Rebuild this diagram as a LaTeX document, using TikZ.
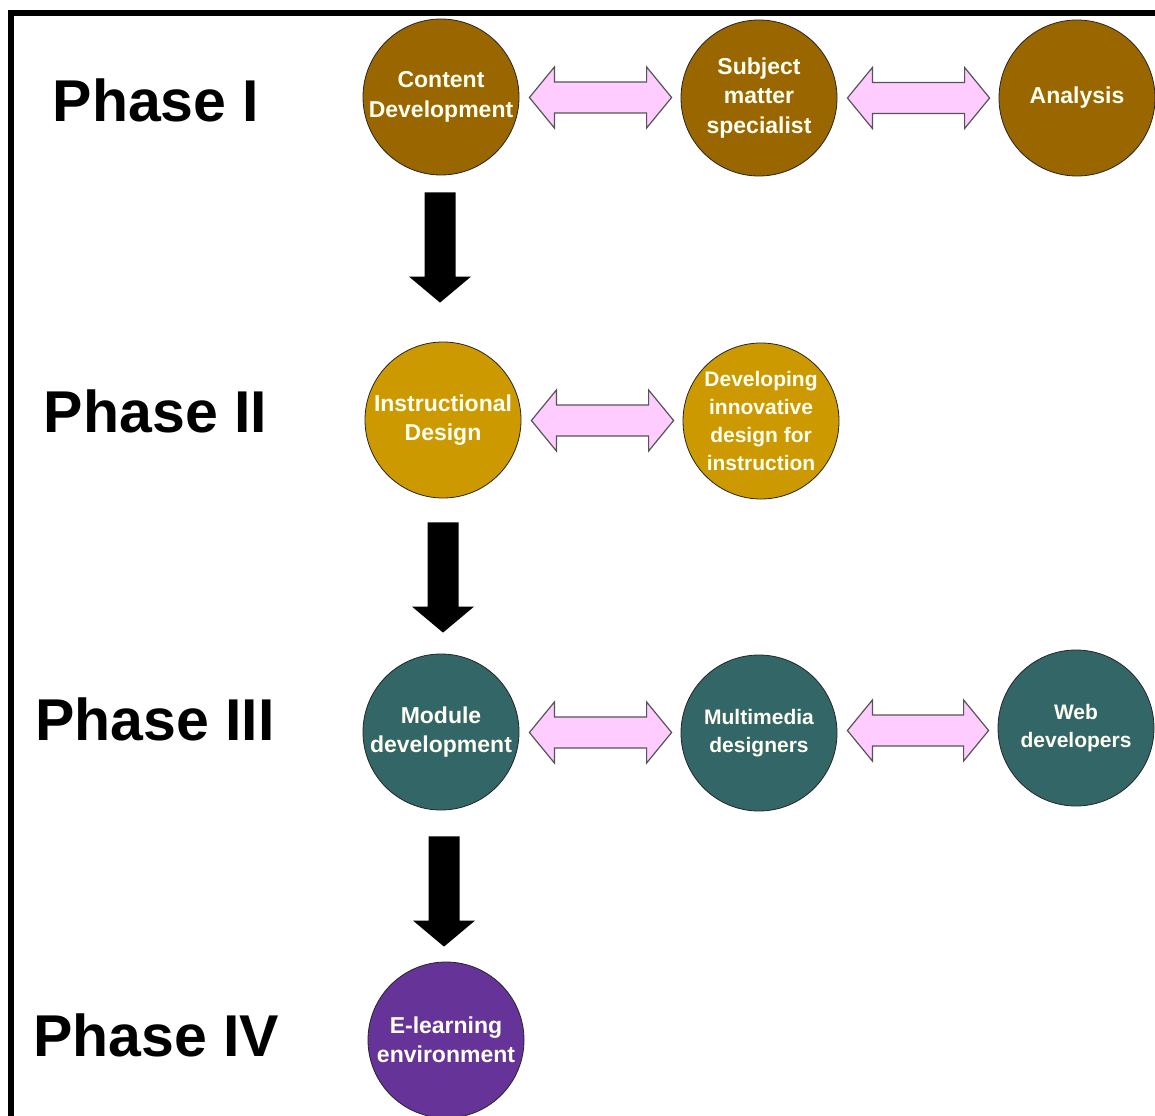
\documentclass[tikz,border=0pt]{standalone}
\usepackage{fontspec}
\setmainfont{Liberation Sans}
\usetikzlibrary{calc}
\definecolor{brownI}{RGB}{153,102,0}
\definecolor{goldII}{RGB}{204,153,0}
\definecolor{tealIII}{RGB}{51,102,102}
\definecolor{purpleIV}{RGB}{102,51,153}
\definecolor{pinkA}{RGB}{255,204,255}
\definecolor{greyA}{RGB}{85,85,85}
\definecolor{txtW}{RGB}{255,255,242}
\tikzset{
  bubble/.style={circle, draw=black!85, line width=0.8pt, minimum size=156pt, inner sep=0pt,
    text=txtW, align=center, font=\fontsize{23}{29.5}\selectfont\bfseries},
  smalltxt/.style={font=\fontsize{21}{28}\selectfont\bfseries},
  phaselabel/.style={anchor=base, font=\fontsize{59}{60}\selectfont\bfseries, text=black},
  dblstyle/.style={fill=pinkA, draw=greyA, line width=1.2pt, line join=miter},
}
\newcommand\pinkdbl[2]{%
  \draw[dblstyle] let \p1=($(#1.east)+(10,0)$), \p2=($(#2.west)+(-9,0)$),
    \p3=($(#1.east)!0.5!(#2.west)$) in
  (\x1,\y3) -- (\x1+25pt,\y3+30.5pt) -- (\x1+25pt,\y3+15.5pt) -- (\x2-25pt,\y3+15.5pt)
  -- (\x2-25pt,\y3+30.5pt) -- (\x2,\y3) -- (\x2-25pt,\y3-30.5pt) -- (\x2-25pt,\y3-15.5pt)
  -- (\x1+25pt,\y3-15.5pt) -- (\x1+25pt,\y3-30.5pt) -- cycle;}
\newcommand\blkdown[5]{%
  \fill[black] let \p1=($(#1.south)+(#5,#3)$), \p2=($(#2.north)+(0,-#4)$) in
  (\x1-15.5pt,\y1) -- (\x1+15.5pt,\y1) -- (\x1+15.5pt,\y2+26pt) -- (\x1+31pt,\y2+26pt)
  -- (\x1,\y2) -- (\x1-31pt,\y2+26pt) -- (\x1-15.5pt,\y2+26pt) -- cycle;}
\begin{document}
\begin{tikzpicture}[x=1pt,y=-1pt]
\useasboundingbox (0,0) rectangle (1155,1115);
\fill[white] (0,0) rectangle (1155,1115);
% frame
\draw[line width=6pt, line join=miter] (11,1118) -- (11,13) -- (1158,13);

% phase labels
\node[phaselabel] (p1) at (156,122) {Phase I};
\node[phaselabel] (p2) at (155.5,432) {Phase II};
\node[phaselabel] (p3) at (155,740) {Phase III};
\node[phaselabel] (p4) at (156,1056) {Phase IV};

% phase I
\node[bubble, fill=brownI] (c1) at (441,97) {Content\\Development};
\node[bubble, fill=brownI] (s1) at (759,98) {Subject\\matter\\specialist};
\node[bubble, fill=brownI] (a1) at (1077,98) {Analysis};
% phase II
\node[bubble, fill=goldII] (c2) at (443,420) {Instructional\\Design};
\node[bubble, fill=goldII, smalltxt] (d2) at (761,421) {Developing\\innovative\\design for\\instruction};
% phase III
\node[bubble, fill=tealIII] (c3) at (441,732) {Module\\development};
\node[bubble, fill=tealIII, smalltxt] (m3) at (759,733) {Multimedia\\designers};
\node[bubble, fill=tealIII, smalltxt] (w3) at (1076,728) {Web\\developers};
% phase IV
\node[bubble, fill=purpleIV] (c4) at (446,1040) {E-learning\\environment};

% double arrows
\pinkdbl{c1}{s1}
\pinkdbl{s1}{a1}
\pinkdbl{c2}{d2}
\pinkdbl{c3}{m3}
\pinkdbl{m3}{w3}

% down arrows
\blkdown{c1}{c2}{17}{39}{-1}
\blkdown{c2}{c3}{24}{21}{0}
\blkdown{c3}{c4}{26}{15}{3}
\end{tikzpicture}
\end{document}
